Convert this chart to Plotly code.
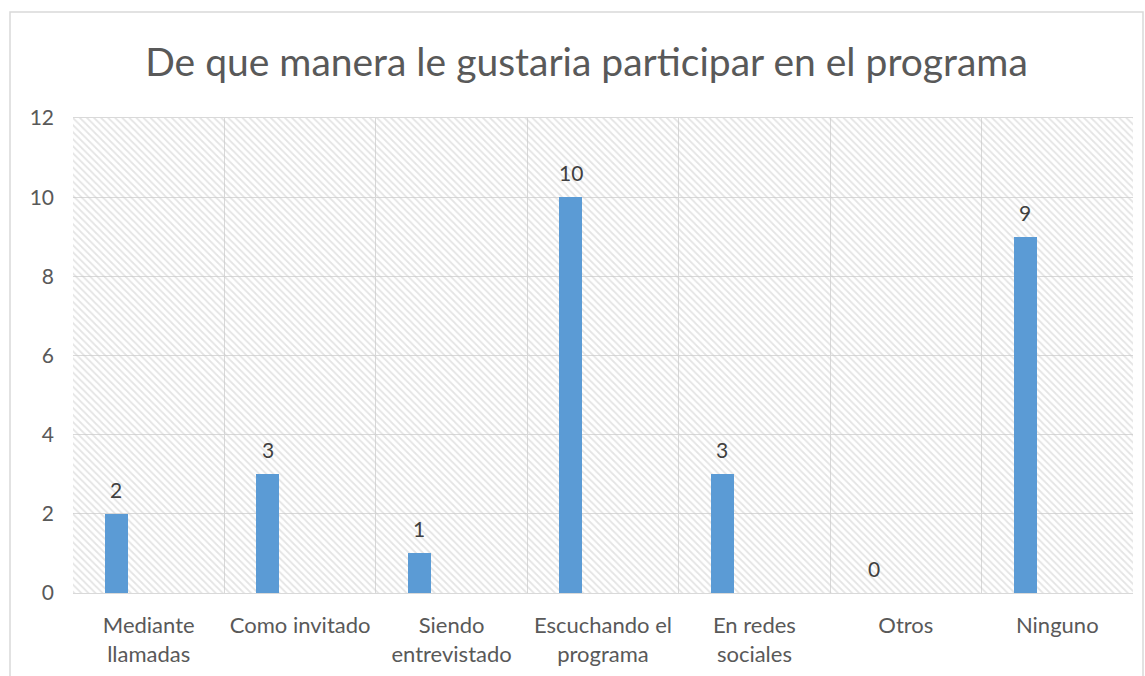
import plotly.graph_objects as go

# Chart data
categories = [
    "Mediante<br>llamadas",
    "Como invitado",
    "Siendo<br>entrevistado",
    "Escuchando el<br>programa",
    "En redes<br>sociales",
    "Otros",
    "Ninguno",
]
responses = [2, 3, 1, 10, 3, 0, 9]
y_ticks = [0, 2, 4, 6, 8, 10, 12]

title_text = "De que manera le gustaria participar en el programa"

FONT = "Lato, 'Open Sans', sans-serif"
GREY = "#595959"
GRID = "#d9d9d9"
BLUE = "#5b9bd5"

# plot area in pixels (from reference)
W, H = 1145, 676
left, right, top, bottom = 73, 1133, 118, 593
cat_px = (right - left) / len(categories)

bar_width = 0.152
bar_offset = -0.289

fig = go.Figure()

# hatched plot-area background, drawn on hidden base axes
fig.add_trace(go.Bar(
    x=[0.5], y=[1], width=1,
    xaxis="x", yaxis="y",
    marker=dict(
        color="rgba(0,0,0,0)",
        line=dict(width=0),
        pattern=dict(shape="\\", fgcolor="#cacaca", bgcolor="rgba(0,0,0,0)",
                     size=5, solidity=0.35),
    ),
    hoverinfo="skip",
    showlegend=False,
))

# actual data, on overlaid axes
fig.add_trace(go.Bar(
    x=categories, y=responses,
    xaxis="x2", yaxis="y2",
    width=bar_width, offset=bar_offset,
    marker=dict(color=BLUE, line=dict(width=0)),
    showlegend=False,
))

# data labels above the bars
label_shift = (bar_offset + bar_width / 2) * cat_px
annotations = [
    dict(
        x=c, y=v, xref="x2", yref="y2",
        text=str(v), showarrow=False,
        xshift=label_shift, yshift=10, yanchor="bottom",
        font=dict(family=FONT, size=21, color="#404040"),
    )
    for c, v in zip(categories, responses)
]

def px_x(p):
    return (p - left) / (right - left)

def px_y(p):
    return (bottom - p) / (bottom - top)

fig.update_layout(
    width=W, height=H,
    margin=dict(l=left, r=W - right, t=top, b=H - bottom, autoexpand=False),
    paper_bgcolor="white",
    plot_bgcolor="white",
    font=dict(family=FONT, color=GREY),
    bargap=0,
    title=dict(
        text=title_text,
        x=(148 + 1025) / 2 / W, xanchor="center",
        y=1 - 62 / H, yanchor="middle", yref="container",
        font=dict(family=FONT, size=39, color=GREY),
    ),
    xaxis=dict(range=[0, 1], visible=False, fixedrange=True),
    yaxis=dict(range=[0, 1], visible=False, fixedrange=True),
    xaxis2=dict(
        overlaying="x", side="bottom",
        type="category",
        tickson="boundaries",
        showgrid=True, gridcolor=GRID, gridwidth=1,
        showline=True, linecolor=GRID, linewidth=1, mirror=True,
        ticks="", ticklabelstandoff=13,
        tickfont=dict(family=FONT, size=22, color=GREY),
        range=[-0.5, 6.5],
        automargin=False,
    ),
    yaxis2=dict(
        overlaying="y", side="left",
        range=[0, 12],
        tickvals=y_ticks,
        showgrid=True, gridcolor=GRID, gridwidth=1,
        zeroline=False,
        ticks="", ticklabelstandoff=18,
        tickfont=dict(family=FONT, size=21, color=GREY),
        automargin=False,
    ),
    annotations=annotations,
    shapes=[dict(
        type="rect", xref="paper", yref="paper",
        x0=px_x(10), x1=px_x(1143), y0=px_y(690), y1=px_y(12),
        line=dict(color=GRID, width=1.5),
        fillcolor="rgba(0,0,0,0)",
        layer="below",
    )],
)

# drop the default body margin so the figure sits at the page origin
fig.write_html(
    "out.html",
    config={"displayModeBar": False},
    post_script="document.body.style.margin = '0';",
)
